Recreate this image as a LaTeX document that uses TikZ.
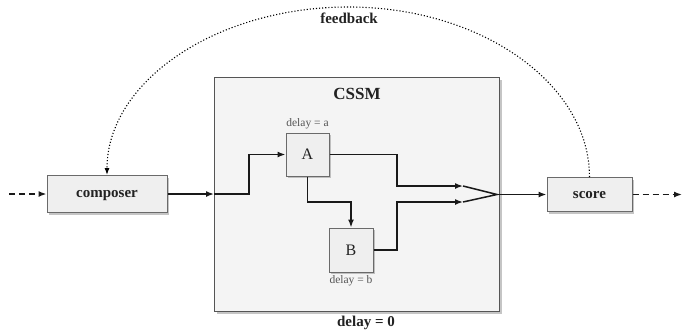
\documentclass[tikz,border=0pt]{standalone}
\usepackage{fontspec}
\setmainfont{Liberation Serif}
\usetikzlibrary{arrows.meta,shadows,calc}
\definecolor{boxfill}{HTML}{EFEFEF}
\definecolor{outerfill}{HTML}{F4F4F4}
\definecolor{boxline}{HTML}{6A6A6A}
\definecolor{lbl}{HTML}{222222}
\definecolor{sublbl}{HTML}{555555}
\begin{document}
\begin{tikzpicture}[x=1pt,y=-1pt,
  wire/.style={line width=1.5pt,draw=black!90},
  tip/.style={-{Latex[length=8pt,width=6pt]}},
  blockbox/.style={draw=boxline,line width=1pt,fill=boxfill,
    drop shadow={shadow xshift=2pt,shadow yshift=-2pt,fill=black!45},
    inner sep=0pt,text depth=0pt},
  bigbox/.style={draw=boxline!80!black,line width=1.2pt,fill=outerfill,
    drop shadow={shadow xshift=2pt,shadow yshift=-2pt,fill=black!45}},
  boldlbl/.style={font=\fontsize{15}{16}\selectfont\bfseries,text=lbl},
  sublabel/.style={font=\fontsize{11.5}{12}\selectfont,text=sublbl,inner sep=0pt},
  ]
\path[use as bounding box] (0,0) rectangle (683,333);

% outer CSSM box
\node[bigbox,minimum width=285pt,minimum height=234pt,anchor=north west] (cssm) at (214,77) {};
\node[font=\fontsize{17}{18}\selectfont\bfseries,text=lbl] (cssmlbl) at (357,94) {CSSM};
\node[boldlbl] (delay0) at (366,323) {delay = 0};

% blocks
\node[blockbox,minimum width=120pt,minimum height=37pt,boldlbl] (composer) at (107,194) {composer};
\node[blockbox,minimum width=85pt,minimum height=34pt,boldlbl] (score) at (589.5,194.5) {score};
\node[blockbox,minimum width=43pt,minimum height=43pt,font=\fontsize{16}{17}\selectfont,text=lbl] (A) at (307.5,154.5) {A};
\node[blockbox,minimum width=44pt,minimum height=44pt,font=\fontsize{16}{17}\selectfont,text=lbl] (B) at (351,250) {B};
\node[sublabel,anchor=south] (dla) at ([yshift=3pt]A.north) {delay = a};
\node[sublabel,anchor=north] (dlb) at ([yshift=-3pt]B.south) {delay = b};

% helper coordinates
\coordinate (inL) at (9,194);
\coordinate (outR) at (682,194.5);
\coordinate (cin) at (composer.east -| cssm.west);
\coordinate (j1) at (249,0);
\coordinate (vx) at (397,0);
\coordinate (j2) at (0,202);
\coordinate (m1) at (463,186);
\coordinate (m2) at (463,202);
\coordinate (mj) at (497,194.5);
\coordinate (top) at (348.5,7);

% input / output dashed
\draw[wire,tip,dash pattern=on 6pt off 4pt] (inL) -- (composer.west);
\draw[wire,tip,dash pattern=on 6pt off 4pt] (score.east) -- (outR);

% composer into CSSM
\draw[wire,tip] (composer.east) -- (cin);
\draw[wire,tip] (cin) -- (cin -| j1) |- (A.west);

% A -> B
\draw[wire,tip] (A.south) |- (B.north |- j2) -- (B.north);

% A, B -> merge
\draw[wire,tip] (A.east) -- (A.east -| vx) |- (m1);
\draw[wire,tip] (B.east) -- (B.east -| vx) |- (m2);
\draw[wire] (m1) -- (mj) -- (m2);
\draw[wire,tip] (mj) -- (score.west);

% feedback
\draw[line width=1.1pt,dotted,-{Latex[length=7pt,width=5pt]}]
  (score.north) .. controls ($(score.north)+(0,-93)$) and ($(top)+(133,0)$) .. (top)
  .. controls ($(top)+(-133,0)$) and ($(composer.north)+(0,-93)$) .. (composer.north);
\node[boldlbl] (fb) at (349,18) {feedback};
\end{tikzpicture}
\end{document}
